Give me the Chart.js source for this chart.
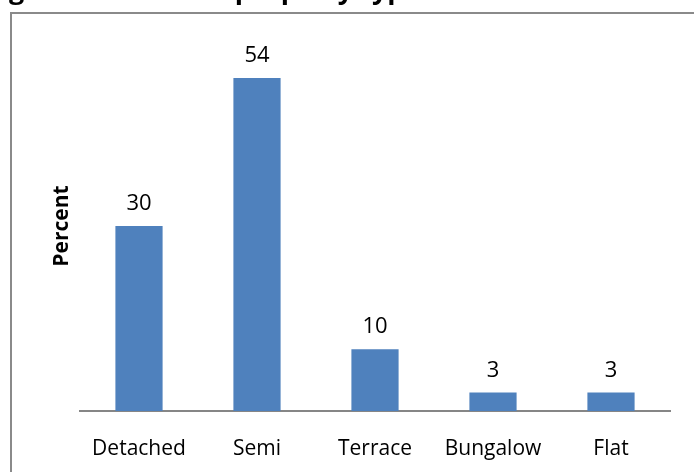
<!DOCTYPE html>
<html>
<head>
<meta charset="utf-8">
<script src="https://cdn.jsdelivr.net/npm/chart.js@4/dist/chart.umd.min.js"></script>
<style>
  html, body { margin: 0; padding: 0; background: #ffffff; }
  #wrap { width: 694px; height: 472px; position: relative; }
</style>
</head>
<body>
<div id="wrap"><canvas id="chart" width="694" height="472"></canvas></div>
<script>
// Share of respondents by type of property
const categories = ['Detached', 'Semi', 'Terrace', 'Bungalow', 'Flat'];
const percentValues = [30, 54, 10, 3, 3];
const axisTitle = 'Percent';
const headingText = 'Figure 10: Current property type';

const FONT = '"Open Sans", Lato, "Liberation Sans", sans-serif';

// Frame around the figure and the heading above it (heading sits mostly above the page edge)
const framePlugin = {
  id: 'frame',
  beforeDraw(chart) {
    const ctx = chart.ctx;
    ctx.save();
    ctx.fillStyle = '#000000';
    ctx.font = 'bold 27px ' + FONT;
    ctx.textAlign = 'left';
    ctx.textBaseline = 'alphabetic';
    ctx.fillText(headingText, -14, -1);
    ctx.strokeStyle = '#8a8a8a';
    ctx.lineWidth = 2;
    ctx.beginPath();
    ctx.moveTo(11, 472);
    ctx.lineTo(11, 13);
    ctx.lineTo(694, 13);
    ctx.stroke();
    ctx.restore();
  }
};

// Value written above each bar
const valueLabels = {
  id: 'valueLabels',
  afterDatasetsDraw(chart) {
    const ctx = chart.ctx;
    const meta = chart.getDatasetMeta(0);
    ctx.save();
    ctx.fillStyle = '#000000';
    ctx.font = '22px ' + FONT;
    ctx.textAlign = 'center';
    ctx.textBaseline = 'alphabetic';
    meta.data.forEach((bar, i) => {
      ctx.fillText(String(chart.data.datasets[0].data[i]), bar.x, bar.y - 16);
    });
    ctx.restore();
  }
};

new Chart(document.getElementById('chart'), {
  type: 'bar',
  data: {
    labels: categories,
    datasets: [{
      data: percentValues,
      backgroundColor: '#4f81bd',
      borderWidth: 0,
      categoryPercentage: 1.0,
      barPercentage: 0.4
    }]
  },
  options: {
    responsive: false,
    animation: false,
    layout: { padding: { top: 41, right: 24, bottom: 0, left: 10 } },
    plugins: {
      legend: { display: false },
      tooltip: { enabled: false },
      title: { display: false }
    },
    scales: {
      x: {
        grid: { display: false, drawTicks: false },
        border: { display: true, color: '#868686', width: 2 },
        ticks: {
          color: '#000000',
          font: { family: FONT, size: 21 },
          padding: 25,
          maxRotation: 0,
          autoSkip: false
        },
        afterFit(scale) { scale.height = 61; }
      },
      y: {
        min: 0,
        max: 60,
        grid: { display: false, drawTicks: false },
        border: { display: false },
        ticks: { display: false },
        title: {
          display: true,
          text: axisTitle,
          color: '#000000',
          font: { family: FONT, size: 21, weight: 'bold' },
          padding: { top: 39, bottom: 0 }
        },
        afterFit(scale) { scale.width = 70; }
      }
    }
  },
  plugins: [framePlugin, valueLabels]
});
</script>
</body>
</html>
